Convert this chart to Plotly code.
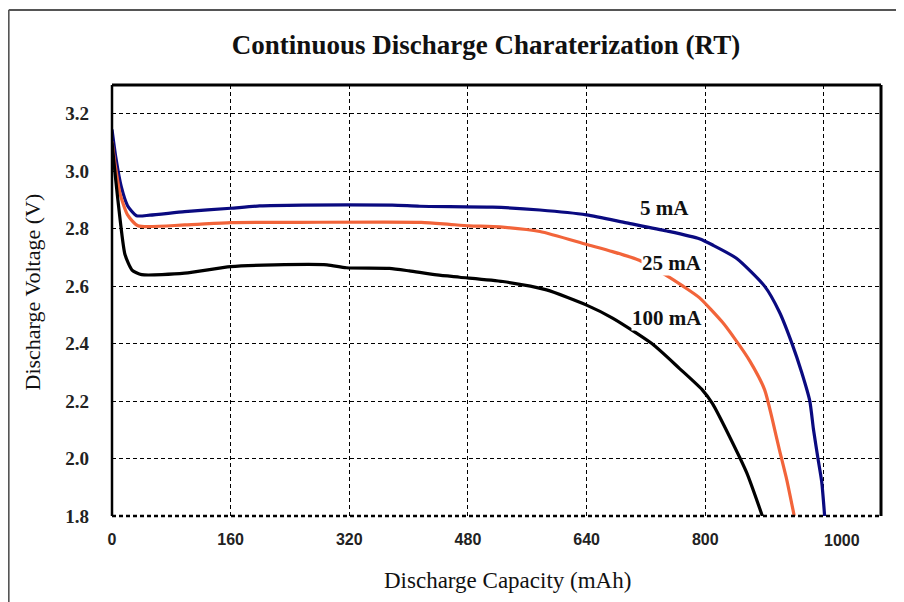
import plotly.graph_objects as go

# ---- data ----
cap_5 = [0, 5, 12.5, 21, 33, 51, 98, 160, 199, 257, 378, 415, 513, 577, 640, 694, 748, 792, 810, 842, 880, 900, 917, 930, 941, 946, 952, 957, 961]
v_5 = [3.145, 3.05, 2.946, 2.88, 2.845, 2.847, 2.859, 2.871, 2.879, 2.882, 2.882, 2.878, 2.875, 2.865, 2.848, 2.82, 2.792, 2.765, 2.743, 2.697, 2.60, 2.51, 2.40, 2.30, 2.20, 2.10, 2.00, 1.92, 1.80]

cap_25 = [0, 5, 11, 21, 35, 98, 160, 253, 417, 455, 482, 523, 577, 640, 675, 711, 749, 770, 792, 823, 839, 860, 880, 891, 900, 910, 920]
v_25 = [3.103, 3.01, 2.92, 2.848, 2.81, 2.813, 2.821, 2.822, 2.822, 2.815, 2.81, 2.806, 2.79, 2.745, 2.72, 2.69, 2.635, 2.60, 2.56, 2.475, 2.42, 2.34, 2.24, 2.13, 2.03, 1.925, 1.80]

cap_100 = [0, 5, 11, 17.5, 27, 40, 98, 160, 219, 290, 316, 374, 401, 438, 469, 527, 586, 640, 675, 728, 765, 796, 810, 833, 856, 877]
v_100 = [3.10, 2.97, 2.83, 2.71, 2.656, 2.64, 2.645, 2.668, 2.674, 2.674, 2.664, 2.662, 2.653, 2.639, 2.631, 2.616, 2.587, 2.534, 2.489, 2.40, 2.314, 2.239, 2.19, 2.075, 1.95, 1.80]

x_grid = [0, 160, 320, 480, 640, 800, 960]
x_ticktext = ["0", "160", "320", "480", "640", "800", ""]
extra_label_pos = 984
extra_label_text = "1000"
y_ticks = [1.8, 2.0, 2.2, 2.4, 2.6, 2.8, 3.0, 3.2]
y_ticktext = ["1.8", "2.0", "2.2", "2.4", "2.6", "2.8", "3.0", "3.2"]

series = [
    ("5 mA", cap_5, v_5, "#0a0a80"),
    ("25 mA", cap_25, v_25, "#f2643a"),
    ("100 mA", cap_100, v_100, "#000000"),
]
labels = [("5 mA", 745, 2.872, False), ("25 mA", 755, 2.681, True), ("100 mA", 748, 2.489, True)]

SERIF = "Liberation Serif, Times New Roman, serif"
SANS = "Liberation Sans, Arial, sans-serif"

fig = go.Figure()
for name, xs, ys, col in series:
    fig.add_trace(go.Scatter(x=xs, y=ys, mode="lines", name=name,
                             line=dict(color=col, width=3.2, shape="spline", smoothing=0.6),
                             showlegend=False))

for text, lx, ly, bg in labels:
    fig.add_annotation(x=lx, y=ly, xref="x", yref="y", text="<b>%s</b>" % text,
                       showarrow=False, font=dict(family=SERIF, size=21, color="#111"),
                       bgcolor="white" if bg else "rgba(0,0,0,0)", borderpad=0)

fig.add_annotation(x=extra_label_pos, y=-0.056, xref="x", yref="paper", text="<b>%s</b>" % extra_label_text,
                   showarrow=False, yanchor="middle", font=dict(family=SANS, size=16, color="#222"))

# axis titles
fig.add_annotation(x=0.514, y=-0.1485, xref="paper", yref="paper", text="Discharge Capacity (mAh)",
                   showarrow=False, yanchor="middle", font=dict(family=SERIF, size=23, color="#111"))
fig.add_annotation(x=-0.104, y=0.5186, xref="paper", yref="paper", text="Discharge Voltage (V)",
                   textangle=-90, showarrow=False, xanchor="center", yanchor="middle",
                   font=dict(family=SERIF, size=22, color="#111"))

shapes = [
    # plot frame
    dict(type="line", xref="paper", yref="paper", x0=0, x1=0, y0=0, y1=1, line=dict(color="black", width=2.5)),
    dict(type="line", xref="paper", yref="paper", x0=0, x1=1, y0=1, y1=1, line=dict(color="black", width=3)),
    dict(type="line", xref="paper", yref="paper", x0=1, x1=1, y0=0, y1=1, line=dict(color="black", width=3)),
    dict(type="line", xref="paper", yref="paper", x0=0, x1=1, y0=0, y1=0, line=dict(color="black", width=2.5, dash="4px,3px")),
    # outer frame
    dict(type="line", xref="paper", yref="paper", x0=-0.1343, x1=-0.1343, y0=-0.25, y1=1.174, line=dict(color="#555", width=1.8)),
    dict(type="line", xref="paper", yref="paper", x0=-0.1343, x1=1.06, y0=1.174, y1=1.174, line=dict(color="#555", width=1.8)),
]

fig.update_layout(
    width=904, height=602,
    margin=dict(l=104, r=31, t=77, b=94),
    paper_bgcolor="white", plot_bgcolor="white",
    title=dict(text="<b>Continuous Discharge Charaterization (RT)</b>", x=478 / 904, xref="container",
               y=1 - 37 / 602, yref="container", xanchor="center", yanchor="middle",
               font=dict(family=SERIF, size=27, color="#111")),
    shapes=shapes,
    xaxis=dict(range=[0, 1037], tickmode="array", tickvals=x_grid,
               ticktext=["<b>%s</b>" % t if t else "" for t in x_ticktext],
               showgrid=True, gridcolor="black", gridwidth=1, griddash="4px,3px",
               zeroline=False, showline=False, ticks="", ticklabelstandoff=12,
               tickfont=dict(family=SANS, size=16, color="#222")),
    yaxis=dict(range=[1.8, 3.3], tickmode="array", tickvals=y_ticks,
               ticktext=["<b>%s</b>" % t for t in y_ticktext],
               showgrid=True, gridcolor="black", gridwidth=1, griddash="4px,3px",
               zeroline=False, showline=False, ticks="", ticklabelstandoff=22,
               tickfont=dict(family=SERIF, size=19, color="#222")),
)

fig.write_html("out.html")
